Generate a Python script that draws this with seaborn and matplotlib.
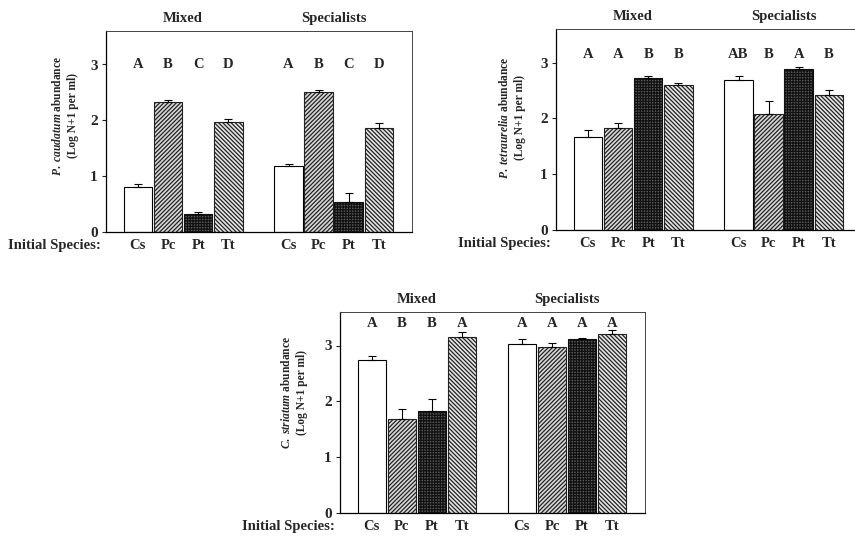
import matplotlib
matplotlib.use("Agg")
import matplotlib.pyplot as plt
import numpy as np
import pandas as pd
import seaborn as sns

# ---------------- data ----------------
species = ["Cs", "Pc", "Pt", "Tt"]
groups = ["Mixed", "Specialists"]

caud_mixed = [0.80, 2.33, 0.32, 1.97]
caud_mixed_err = [0.06, 0.03, 0.04, 0.05]
caud_spec = [1.18, 2.50, 0.54, 1.86]
caud_spec_err = [0.03, 0.05, 0.15, 0.10]
caud_letters_mixed = ["A", "B", "C", "D"]
caud_letters_spec = ["A", "B", "C", "D"]

tetra_mixed = [1.66, 1.82, 2.72, 2.59]
tetra_mixed_err = [0.14, 0.09, 0.04, 0.04]
tetra_spec = [2.69, 2.07, 2.88, 2.41]
tetra_spec_err = [0.06, 0.24, 0.04, 0.09]
tetra_letters_mixed = ["A", "A", "B", "B"]
tetra_letters_spec = ["AB", "B", "A", "B"]

stri_mixed = [2.74, 1.68, 1.82, 3.16]
stri_mixed_err = [0.07, 0.18, 0.23, 0.08]
stri_spec = [3.03, 2.97, 3.12, 3.21]
stri_spec_err = [0.09, 0.08, 0.01, 0.07]
stri_letters_mixed = ["A", "B", "B", "A"]
stri_letters_spec = ["A", "A", "A", "A"]

yticks = [0, 1, 2, 3]
xlabel_text = "Initial Species:"
ylabel_lines = [
    (r"$\it{P.\ caudatum}$ abundance", "(Log N+1 per ml)"),
    (r"$\it{P.\ tetraurelia}$ abundance", "(Log N+1 per ml)"),
    (r"$\it{C.\ striatum}$ abundance", "(Log N+1 per ml)"),
]

# ---------------- style ----------------
sns.set_style("ticks")
plt.rcParams["font.family"] = ["Liberation Serif", "DejaVu Serif"]
plt.rcParams["font.weight"] = "bold"
plt.rcParams["mathtext.fontset"] = "custom"
plt.rcParams["mathtext.it"] = "Liberation Serif:italic:bold"
plt.rcParams["mathtext.rm"] = "Liberation Serif:bold"
plt.rcParams["mathtext.bf"] = "Liberation Serif:bold"
plt.rcParams["hatch.linewidth"] = 0.9

styles = {
    "Cs": dict(facecolor="white", hatch=None, edge="black"),
    "Pc": dict(facecolor="#d8d8d8", hatch="////////", edge="#222222"),
    "Pt": dict(facecolor="#5a5a5a", hatch="++++++", edge="#111111"),
    "Tt": dict(facecolor="#e6e6e6", hatch="\\\\\\\\\\\\\\\\", edge="#222222"),
}

fig = plt.figure(figsize=(8.55, 5.38), dpi=100)
W, H = 855.0, 538.0
panel_px = [  # left, bottom(px from top), width, height, ylabel x, ylabel y
    (106, 232, 306, 201, -0.088, 0.58),
    (556, 230, 306, 201, -0.098, 0.56),
    (340, 513, 305, 201, -0.105, 0.60),
]
panels = [
    (caud_mixed, caud_mixed_err, caud_spec, caud_spec_err,
     caud_letters_mixed, caud_letters_spec, 3.0),
    (tetra_mixed, tetra_mixed_err, tetra_spec, tetra_spec_err,
     tetra_letters_mixed, tetra_letters_spec, 3.15),
    (stri_mixed, stri_mixed_err, stri_spec, stri_spec_err,
     stri_letters_mixed, stri_letters_spec, 3.40),
]

order = [f"{groups[0]}|{s}" for s in species] + ["gap"] + \
        [f"{groups[1]}|{s}" for s in species]

for (l, b, w, h, lx, ly), (mv, me, sv, se, lm, ls, ylet), ylab in zip(panel_px, panels, ylabel_lines):
    ax = fig.add_axes([l / W, (H - b) / H, w / W, h / H])
    df = pd.DataFrame({
        "slot": [f"{groups[0]}|{s}" for s in species] + [f"{groups[1]}|{s}" for s in species],
        "species": species + species,
        "value": list(mv) + list(sv),
        "err": list(me) + list(se),
        "letter": list(lm) + list(ls),
        "group": [groups[0]] * 4 + [groups[1]] * 4,
    })
    sns.barplot(data=df, x="slot", y="value", order=order, color="white",
                width=0.95, errorbar=None, edgecolor="black", linewidth=0.8,
                ax=ax)
    patches = sorted([p for p in ax.patches if p.get_height() > 0],
                     key=lambda p: p.get_x())
    centers = []
    for p, (_, row) in zip(patches, df.iterrows()):
        st = styles[row["species"]]
        p.set_facecolor(st["facecolor"])
        p.set_edgecolor(st["edge"])
        if st["hatch"]:
            p.set_hatch(st["hatch"])
        cx = p.get_x() + p.get_width() / 2
        centers.append(cx)
        ax.text(cx, ylet, row["letter"], ha="center", va="center",
                fontsize=10.5, fontweight="bold")
    centers = np.array(centers)
    ax.errorbar(centers, df["value"], yerr=[np.zeros(len(df)), df["err"]],
                fmt="none", ecolor="black", elinewidth=0.8, capsize=3,
                capthick=0.8, zorder=1)
    # group titles
    trans = ax.get_xaxis_transform()
    for gi, g in enumerate(groups):
        gx = centers[gi * 4:(gi + 1) * 4].mean()
        ax.text(gx, 1.06, g, transform=trans, ha="center", va="center",
                fontsize=10.5, fontweight="bold")
    ax.set_ylim(0, 3.6)
    ax.set_xlim(-1.06, 9.1)
    ax.set_yticks(yticks)
    ax.set_yticklabels([str(t) for t in yticks], fontsize=11, fontweight="bold")
    ax.set_xticks(range(len(order)))
    ax.set_xticklabels(species + [""] + species, fontsize=10.5, fontweight="bold")
    ax.tick_params(axis="x", length=0, pad=5)
    ax.tick_params(axis="y", length=3, width=0.8, pad=3, direction="out")
    ax.set_xlabel("")
    ax.set_ylabel(ylab[0] + "\n" + ylab[1], fontsize=8.3, fontweight="bold",
                  linespacing=1.35)
    ax.yaxis.set_label_coords(lx, ly)
    ax.annotate(xlabel_text, xy=(0, 0), xycoords="axes fraction",
                xytext=(-4, -10), textcoords="offset points",
                ha="right", va="center", fontsize=10.5, fontweight="bold")
    for side in ["top", "right"]:
        ax.spines[side].set_visible(True)
        ax.spines[side].set_linewidth(0.7)
        ax.spines[side].set_color("#444444")
    for side in ["left", "bottom"]:
        ax.spines[side].set_linewidth(0.9)
        ax.spines[side].set_color("black")

fig.savefig("out.png", dpi=100)
